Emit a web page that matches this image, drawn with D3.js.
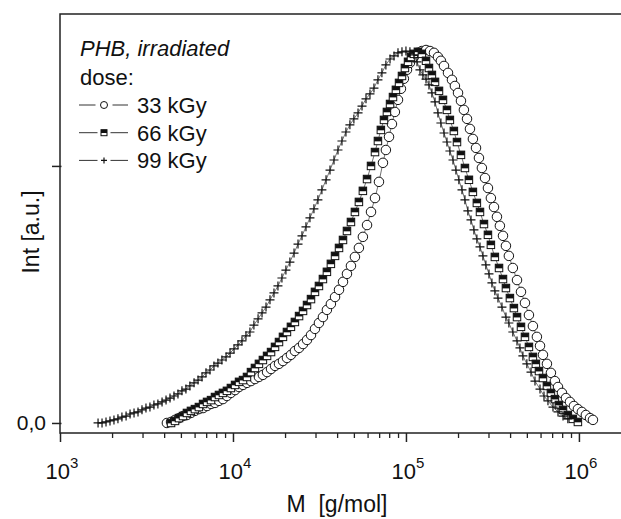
<!DOCTYPE html>
<html>
<head>
<meta charset="utf-8">
<script src="https://cdn.jsdelivr.net/npm/d3@7"></script>
<style>
  body { margin: 0; background: #fff; }
  text { font-family: "Liberation Sans", Arial, sans-serif; fill: #111; }
</style>
</head>
<body>
<svg id="chart" width="621" height="519"></svg>
<script>
// 33 kGy (open circles)
const logM33 = [3.618,3.642,3.665,3.688,3.711,3.734,3.757,3.780,3.803,3.827,
  3.850,3.873,3.896,3.919,3.942,3.965,3.988,4.012,4.035,4.058,
  4.081,4.104,4.127,4.150,4.173,4.197,4.220,4.243,4.266,4.289,
  4.312,4.335,4.358,4.382,4.405,4.428,4.451,4.474,4.497,4.520,
  4.543,4.566,4.590,4.613,4.636,4.659,4.682,4.705,4.728,4.751,
  4.775,4.798,4.821,4.844,4.867,
  4.884,4.902,4.919,4.936,4.954,4.971,4.988,5.006,5.023,
  5.046,5.069,5.092,5.116,5.139,5.162,
  5.185,5.202,5.220,5.243,5.266,
  5.283,5.301,5.318,5.335,5.353,5.370,5.387,5.405,5.422,5.439,5.457,5.474,5.491,5.509,5.526,5.543,5.561,5.578,5.595,
  5.618,5.642,5.665,5.688,5.711,5.734,5.757,5.775,5.792,5.815,5.838,5.861,5.879,
  5.902,5.925,5.948,5.971,5.994,6.017,6.040,6.064,6.081];
const int33 = [0.000,0.004,0.012,0.019,0.027,0.031,0.039,0.047,0.054,0.058,
  0.066,0.074,0.078,0.086,0.093,0.105,0.117,0.128,0.140,0.148,
  0.156,0.163,0.171,0.179,0.187,0.198,0.210,0.222,0.230,0.241,
  0.253,0.265,0.280,0.292,0.307,0.323,0.342,0.366,0.389,0.412,
  0.440,0.463,0.490,0.518,0.549,0.580,0.611,0.646,0.681,0.724,
  0.770,0.821,0.875,0.938,1.012,
  1.062,1.113,1.163,1.210,1.257,1.300,1.339,1.374,1.401,
  1.424,1.440,1.447,1.451,1.447,1.440,
  1.424,1.409,1.389,1.362,1.335,
  1.311,1.284,1.253,1.218,1.183,1.144,1.105,1.070,1.031,0.992,0.953,0.914,0.875,0.840,0.802,0.767,0.728,0.689,0.650,
  0.603,0.556,0.510,0.467,0.420,0.377,0.335,0.300,0.265,0.230,0.195,0.163,0.140,
  0.117,0.097,0.082,0.066,0.054,0.043,0.031,0.019,0.012];

// 66 kGy (half filled squares)
const logM66 = [3.642,3.665,3.688,3.711,3.734,3.757,3.780,3.803,3.827,3.850,
  3.873,3.896,3.919,3.942,3.965,3.988,4.012,4.035,4.058,4.081,
  4.104,4.127,4.150,4.173,4.197,4.220,4.243,4.266,4.289,4.312,
  4.335,4.358,4.382,4.405,4.428,4.451,4.474,4.497,4.520,4.543,
  4.566,4.590,4.613,4.636,4.659,4.682,4.705,4.728,4.751,4.775,
  4.798,4.821,
  4.838,4.855,4.873,4.890,4.908,4.925,4.942,4.960,4.977,4.994,5.012,5.029,
  5.046,5.069,5.092,5.116,5.133,5.150,5.168,5.191,5.214,5.237,5.254,5.277,5.295,
  5.318,5.341,5.364,5.387,5.410,
  5.428,5.451,5.474,5.491,5.514,5.538,5.561,5.578,5.601,5.624,5.642,5.665,5.688,
  5.711,5.734,5.751,5.769,5.792,5.815,5.838,5.861,5.884,5.908,5.936,5.965,5.994];
const int66 = [0.000,0.008,0.019,0.027,0.039,0.047,0.054,0.062,0.074,0.082,
  0.089,0.101,0.109,0.117,0.125,0.136,0.148,0.160,0.167,0.179,
  0.198,0.214,0.230,0.245,0.261,0.276,0.296,0.315,0.335,0.354,
  0.374,0.393,0.416,0.436,0.459,0.482,0.510,0.533,0.560,0.588,
  0.619,0.650,0.681,0.712,0.747,0.782,0.821,0.860,0.903,0.949,
  1.000,1.054,
  1.097,1.140,1.179,1.210,1.241,1.268,1.296,1.323,1.350,1.381,1.405,1.424,
  1.436,1.444,1.436,1.409,1.381,1.354,1.327,1.292,1.257,1.218,1.179,1.136,1.093,
  1.043,0.992,0.946,0.899,0.856,
  0.821,0.774,0.732,0.693,0.646,0.603,0.560,0.525,0.486,0.447,0.412,0.374,0.335,
  0.296,0.257,0.230,0.202,0.175,0.144,0.117,0.093,0.070,0.051,0.031,0.016,0.004];

// 99 kGy (crosses)
const logM99 = [3.220,3.243,3.266,3.289,3.312,3.335,3.358,3.382,3.405,3.428,
  3.451,3.474,3.497,3.520,3.543,3.566,3.590,3.613,3.636,3.659,
  3.682,3.705,3.728,3.751,3.775,3.798,3.821,3.844,3.867,3.890,
  3.913,3.936,3.960,3.983,4.006,4.029,4.052,4.075,4.098,4.121,
  4.145,4.168,4.191,4.214,4.237,4.260,4.283,4.306,4.329,4.353,
  4.376,4.399,4.422,4.445,4.468,4.491,4.514,4.538,4.561,4.584,
  4.607,4.630,4.653,4.676,4.699,4.723,4.746,4.769,4.792,4.815,
  4.838,4.861,4.884,4.908,4.931,4.954,4.977,5.000,5.023,5.046,
  5.064,5.081,5.098,5.116,5.133,5.150,5.168,5.185,5.202,5.220,
  5.237,5.254,5.272,5.289,5.306,5.324,5.341,5.358,5.376,5.393,
  5.410,5.428,5.445,5.462,5.480,5.497,5.514,5.532,
  5.555,5.578,5.595,5.618,5.642,5.659,5.676,5.699,5.723,5.746,5.775,5.798,5.821,5.850,5.879,5.908,5.936];
const int99 = [0.000,0.000,0.004,0.008,0.012,0.016,0.023,0.027,0.035,0.039,
  0.043,0.051,0.058,0.062,0.070,0.074,0.082,0.089,0.097,0.105,
  0.113,0.125,0.132,0.144,0.156,0.167,0.179,0.195,0.206,0.222,
  0.233,0.245,0.257,0.272,0.288,0.304,0.319,0.339,0.354,0.381,
  0.405,0.428,0.451,0.479,0.506,0.533,0.564,0.595,0.626,0.661,
  0.696,0.728,0.763,0.798,0.833,0.868,0.907,0.946,0.984,1.023,
  1.062,1.097,1.132,1.160,1.183,1.206,1.233,1.261,1.280,1.303,
  1.335,1.362,1.393,1.416,1.428,1.440,1.444,1.447,1.444,1.432,
  1.405,1.374,1.354,1.338,1.315,1.284,1.249,1.206,1.167,1.128,
  1.093,1.058,1.023,0.984,0.946,0.907,0.868,0.825,0.790,0.751,
  0.716,0.685,0.650,0.615,0.580,0.545,0.514,0.486,
  0.451,0.412,0.389,0.354,0.319,0.292,0.261,0.230,0.198,0.163,0.132,0.105,0.086,0.062,0.043,0.027,0.016];

const doses = ["33 kGy", "66 kGy", "99 kGy"];
const markerTypes = ["circle", "square", "plus"];
const xMajor = [1e3, 1e4, 1e5, 1e6];
const xExp = ["3", "4", "5", "6"];
const yTicks = [0, 1];

const series = [
  {name: doses[0], type: markerTypes[0], pts: logM33.map((v, i) => ({m: Math.pow(10, v), y: int33[i]}))},
  {name: doses[1], type: markerTypes[1], pts: logM66.map((v, i) => ({m: Math.pow(10, v), y: int66[i]}))},
  {name: doses[2], type: markerTypes[2], pts: logM99.map((v, i) => ({m: Math.pow(10, v), y: int99[i]}))}
];

const svg = d3.select("#chart");
const plotL = 60, plotT = 14, plotB = 433, plotR = 631;

const x = d3.scaleLog().domain([1e3, 2e6]).range([plotL, plotR]);
const y = d3.scaleLinear().domain([-0.039, 1.591]).range([plotB, plotT]);

// frame
svg.append("rect")
  .attr("x", plotL).attr("y", plotT)
  .attr("width", plotR - plotL).attr("height", plotB - plotT)
  .attr("fill", "none").attr("stroke", "#222").attr("stroke-width", 1.5);

// x axis: majors + minors
const minors = [];
xMajor.forEach(d => { for (let k = 2; k <= 9; k++) if (d * k < 2e6) minors.push(d * k); });

svg.append("g").attr("transform", `translate(0,${plotB})`)
  .call(d3.axisBottom(x).tickValues(minors).tickSize(5).tickFormat(""))
  .call(g => g.select(".domain").remove())
  .selectAll("line").attr("stroke", "#222").attr("stroke-width", 1.3);

svg.append("g").attr("transform", `translate(0,${plotB})`)
  .call(d3.axisBottom(x).tickValues(xMajor).tickSize(9).tickFormat(""))
  .call(g => g.select(".domain").remove())
  .selectAll("line").attr("stroke", "#222").attr("stroke-width", 1.5);

const xl = svg.append("g").selectAll("text").data(xMajor).join("text")
  .attr("x", d => x(d) + 2).attr("y", 479)
  .attr("text-anchor", "middle").attr("font-size", 22);
xl.append("tspan").text("10");
xl.append("tspan").attr("dy", -11).attr("font-size", 15).text((d, i) => xExp[i]);

// y axis ticks
svg.append("g").attr("transform", `translate(${plotL + 1.5},0)`)
  .call(d3.axisLeft(y).tickValues(yTicks).tickSize(9.5).tickPadding(6).tickFormat(d => d === 0 ? "0,0" : ""))
  .call(g => g.select(".domain").remove())
  .call(g => g.selectAll("line").attr("stroke", "#222").attr("stroke-width", 1.5))
  .call(g => g.selectAll("text").attr("font-size", 21).attr("fill", "#111")
    .style("font-family", '"Liberation Sans", Arial, sans-serif'));

// axis titles
svg.append("text").attr("x", 337).attr("y", 512).attr("text-anchor", "middle")
  .attr("font-size", 23).style("white-space", "pre").text("M  [g/mol]");
svg.append("text").attr("transform", "translate(39,232) rotate(-90)")
  .attr("text-anchor", "middle").attr("font-size", 23).text("Int [a.u.]");

// marker drawing
function marker(g, type, cx, cy, s) {
  if (type === "circle") {
    g.append("circle").attr("cx", cx).attr("cy", cy).attr("r", s / 2)
      .attr("fill", "#fff").attr("stroke", "#111").attr("stroke-width", 1);
  } else if (type === "square") {
    g.append("rect").attr("x", cx - s / 2).attr("y", cy - s / 2).attr("width", s).attr("height", s)
      .attr("fill", "#fff").attr("stroke", "#111").attr("stroke-width", 1);
    g.append("rect").attr("x", cx - s / 2).attr("y", cy - s / 2).attr("width", s).attr("height", s * 0.55)
      .attr("fill", "#111");
  } else {
    g.append("path").attr("d", `M${cx - s / 2},${cy}H${cx + s / 2}M${cx},${cy - s / 2}V${cy + s / 2}`)
      .attr("stroke", "#111").attr("stroke-width", 1.2).attr("fill", "none");
  }
}

const line = d3.line().x(d => x(d.m)).y(d => y(d.y));
const sizes = {circle: 9.5, square: 7.5, plus: 9};

series.forEach(s => {
  const g = svg.append("g");
  g.append("path").datum(s.pts).attr("d", line)
    .attr("fill", "none").attr("stroke", "#333").attr("stroke-width", 0.7);
  s.pts.forEach(p => marker(g, s.type, x(p.m), y(p.y), sizes[s.type]));
});

// legend
const leg = svg.append("g");
leg.append("text").attr("x", 80).attr("y", 56).attr("font-size", 22)
  .attr("font-style", "italic").text("PHB, irradiated");
leg.append("text").attr("x", 80).attr("y", 85).attr("font-size", 22).text("dose:");
series.forEach((s, i) => {
  const by = 113 + i * 27.7, ly = by - 8;
  const gap = s.type === "circle" ? 8.5 : 6.5;
  leg.append("line").attr("x1", 79).attr("x2", 104 - gap).attr("y1", ly).attr("y2", ly)
    .attr("stroke", "#333").attr("stroke-width", 1);
  leg.append("line").attr("x1", 104 + gap).attr("x2", 128).attr("y1", ly).attr("y2", ly)
    .attr("stroke", "#333").attr("stroke-width", 1);
  marker(leg, s.type, 104, ly, s.type === "circle" ? 7 : 6);
  leg.append("text").attr("x", 137).attr("y", by).attr("font-size", 22).text(s.name);
});
</script>
</body>
</html>
